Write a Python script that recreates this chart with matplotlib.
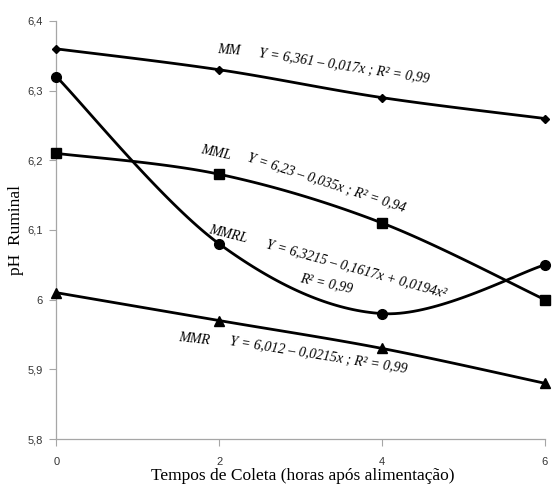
import numpy as np
import matplotlib
matplotlib.use("Agg")
import matplotlib.pyplot as plt

times = [0, 2, 4, 6]
mm = [6.36, 6.33, 6.29, 6.26]
mml = [6.21, 6.18, 6.11, 6.00]
mmrl = [6.32, 6.08, 5.98, 6.05]
mmr = [6.01, 5.97, 5.93, 5.88]
yticks = [5.8, 5.9, 6.0, 6.1, 6.2, 6.3, 6.4]
ytick_labels = ["5,8", "5,9", "6", "6,1", "6,2", "6,3", "6,4"]
xticks = [0, 2, 4, 6]


def smooth(xs, ys, n=40):
    xs = np.asarray(xs, float)
    ys = np.asarray(ys, float)
    P = np.column_stack([xs, ys])
    out = []
    for i in range(len(P) - 1):
        p0 = P[i - 1] if i > 0 else P[i]
        p1 = P[i]
        p2 = P[i + 1]
        p3 = P[i + 2] if i + 2 < len(P) else P[i + 1]
        c1 = p1 + (p2 - p0) / 6
        c2 = p2 - (p3 - p1) / 6
        t = np.linspace(0, 1, n)[:, None]
        seg = ((1 - t) ** 3) * p1 + 3 * ((1 - t) ** 2) * t * c1 + 3 * (1 - t) * t ** 2 * c2 + t ** 3 * p2
        out.append(seg if i == 0 else seg[1:])
    s = np.vstack(out)
    return s[:, 0], s[:, 1]


fig = plt.figure(figsize=(5.56, 4.86), dpi=100)
ax = fig.add_axes([0.1016, 0.0967, 0.8784, 0.8601])

series = [
    (mm, "D", 4.5),
    (mml, "s", 6.5),
    (mmrl, "o", 7),
    (mmr, "^", 6.5),
]
for ys, mk, ms in series:
    sx, sy = smooth(times, ys)
    ax.plot(sx, sy, color="black", lw=2, solid_capstyle="round", zorder=2)
    ax.plot(times, ys, linestyle="none", marker=mk, ms=ms, color="black", zorder=3, clip_on=False)

ax.set_xlim(0, 6)
ax.set_ylim(5.8, 6.4)
ax.set_xticks(xticks)
ax.set_xticklabels([str(x) for x in xticks])
ax.set_yticks(yticks)
ax.set_yticklabels(ytick_labels)
for s in ["top", "right"]:
    ax.spines[s].set_visible(False)
for s in ["left", "bottom"]:
    ax.spines[s].set_color("#a6a6a6")
    ax.spines[s].set_linewidth(0.9)
ax.tick_params(axis="both", colors="#a6a6a6", length=5, width=0.8, labelsize=8, labelcolor="#333333")
for lab in ax.get_xticklabels() + ax.get_yticklabels():
    lab.set_family("Liberation Sans")
ax.tick_params(axis="x", pad=8)
ax.tick_params(axis="y", pad=5)

serif = "Liberation Serif"
ax.set_xlabel("Tempos de Coleta (horas após alimentação)", fontsize=12.5, family=serif)
ax.xaxis.set_label_coords(0.504, (439 - 476) / 418)
ax.xaxis.label.set_va("center")
ax.set_ylabel("pH  Ruminal", fontsize=12.5, family=serif)
ax.yaxis.set_label_coords((16 - 56.5) / 488.5, 0.5)
ax.yaxis.label.set_va("center")


def txt(px, py, s, rot, size=10):
    fig.text(px / 556, 1 - py / 486, s, rotation=rot, rotation_mode="anchor",
             fontsize=size, family=serif, style="italic", ha="left", va="baseline")


txt(217, 53, "MM", -4)
txt(258, 57, "Y = 6,361 – 0,017x ; R² = 0,99", -8.7)
txt(200, 153, "MML", -12)
txt(247, 161, "Y = 6,23 – 0,035x ; R² = 0,94", -18)
txt(208, 233, "MMRL", -14)
txt(265, 247, "Y = 6,3215 – 0,1617x + 0,0194x²", -15.5)
txt(299, 281, "R² = 0,99", -12)
txt(178, 341, "MMR", -6)
txt(229, 345, "Y = 6,012 – 0,0215x ; R² = 0,99", -9)

fig.savefig("out.png", dpi=100)
